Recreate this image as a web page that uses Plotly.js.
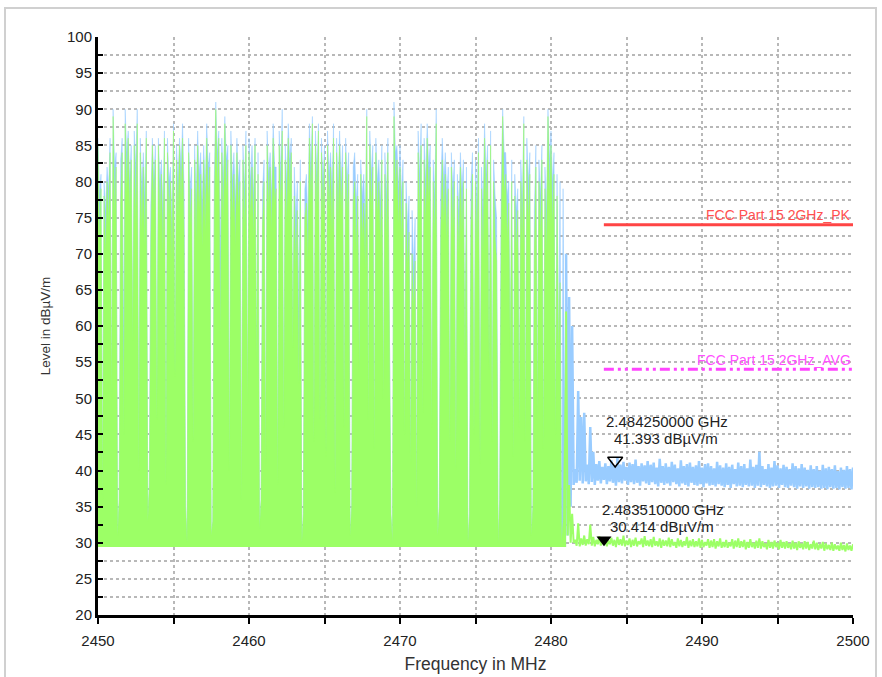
<!DOCTYPE html>
<html><head><meta charset="utf-8">
<script src="https://cdn.plot.ly/plotly-3.0.1.min.js"></script>
<style>
html,body{margin:0;padding:0;background:#fff;overflow:hidden;width:882px;height:677px;}
#chart{position:absolute;left:0;top:0;width:882px;height:677px;}
#frame{position:absolute;left:4px;top:7px;width:873px;height:720px;border:2px solid #d0d0d0;box-sizing:border-box;pointer-events:none;}
</style></head><body>
<div id="chart"></div>
<div id="frame"></div>
<script>
// Sweep grid
const START_MHZ = 2450.0;
const STEP_MHZ = 0.1;
const SPLIT_INDEX = 310;      // end of the hopping band (2481.0 MHz)
const HOP_FLOOR = 29.4;       // noise floor under the hopping band

// Peak trace (blue), dBµV/m, one value per 0.1 MHz from 2450.0 to 2500.0
const pkLevel = [
86,78,81,36,80,76,82,79,86,50,
90,82,84,31,36,83,86,58,90,84,
87,80,85,58,87,82,90,40,86,79,
84,78,87,33,38,77,86,80,85,47,
86,80,83,76,87,38,86,80,82,74,
88,53,85,80,86,82,88,79,35,30,
86,79,82,44,85,78,87,81,84,77,
85,79,88,82,84,31,33,80,91,84,
87,70,86,80,89,83,85,40,87,80,
84,77,86,80,83,36,85,79,87,49,
86,80,85,78,86,55,84,32,36,79,
83,41,87,81,84,78,88,82,82,38,
87,81,90,46,85,80,88,83,86,57,
82,75,80,62,83,30,34,79,81,74,
88,82,89,44,87,81,88,47,86,80,
85,42,87,81,84,79,88,37,86,79,
87,80,85,46,86,80,84,31,35,82,
84,77,81,54,83,78,81,74,90,47,
87,81,85,43,86,80,83,77,85,50,
84,78,86,53,34,30,91,84,85,79,
85,78,83,45,80,74,78,41,76,68,
75,35,87,81,88,48,86,80,88,82,
85,46,83,78,90,31,35,79,86,80,
84,78,82,44,84,79,83,40,81,76,
84,79,83,55,82,30,34,80,84,45,
83,77,86,41,82,76,88,81,85,54,
87,44,83,78,75,30,36,79,90,84,
84,78,80,56,83,42,81,76,79,46,
83,77,89,44,86,80,84,31,35,76,
85,47,83,78,85,43,82,76,90,83,
87,80,84,45,81,56,80,30,79,48,
70,31,64,35,60,38,
40.2,38.3,51.0,38.6,47.4,38.2,48.0,38.5,40.8,38.1,
46.0,38.4,42.6,38.0,40.9,38.6,41.3,38.2,40.5,38.7,
41.0,38.1,40.6,38.5,41.4,38.3,40.7,37.9,41.8,38.4,
40.8,38.2,41.2,38.6,40.5,38.0,41.1,38.4,40.9,38.1,
41.5,38.3,40.6,37.9,41.0,38.5,40.7,38.2,41.3,38.0,
40.8,38.4,41.1,38.1,40.4,37.8,41.6,38.3,40.6,38.0,
41.0,38.2,40.5,37.9,41.2,38.4,40.8,38.1,40.3,37.8,
41.4,38.2,40.6,38.0,40.9,37.8,41.1,38.3,40.5,38.0,
40.7,37.9,41.3,38.1,40.4,37.7,40.9,38.2,41.0,37.9,
40.6,38.0,40.3,37.8,41.2,38.1,40.7,37.9,40.4,37.7,
41.0,38.0,40.5,37.6,40.8,38.1,40.2,37.8,41.1,37.9,
40.6,37.7,40.9,38.0,40.3,37.8,41.5,37.9,40.5,37.6,
40.8,37.9,42.6,37.7,40.6,38.0,40.2,37.8,40.9,37.6,
40.4,37.8,41.3,37.9,40.7,37.6,40.3,38.0,40.8,37.7,
40.5,37.6,40.2,37.9,41.0,37.7,40.6,37.5,40.3,37.8,
40.9,37.6,40.4,37.8,40.1,37.5,40.7,37.7,40.2,37.6,
40.6,37.7,40.0,37.5,40.8,37.6,40.3,37.4,40.5,37.7,
40.2,37.5,40.7,37.6,39.9,37.4,40.4,37.7,40.1,37.5,
40.6,37.6,40.2,37.4,40.4
];

// Average trace (green), dBµV/m, same sweep grid
const avLevel = [
85,72,79,36,78,70,80,74,84,50,
89,75,82,31,36,77,84,45,88,78,
86,76,83,58,85,74,88,40,84,73,
82,71,86,33,38,72,85,76,83,47,
85,74,81,70,86,38,84,75,80,69,
87,53,83,75,85,77,86,73,35,30,
84,74,79,44,83,72,85,76,81,71,
83,73,86,77,82,31,33,75,90,79,
86,59,84,74,88,78,83,40,85,75,
81,71,84,76,80,36,83,73,85,49,
84,75,82,72,85,55,81,32,36,74,
80,41,85,76,82,73,86,77,79,38,
85,76,87,46,83,74,86,78,84,57,
78,68,76,52,80,30,34,75,77,69,
86,77,88,44,85,76,87,47,84,75,
83,42,85,76,82,73,86,37,84,74,
85,76,82,46,84,75,81,31,35,77,
80,70,78,54,81,72,77,68,89,47,
85,76,82,43,84,75,80,71,83,50,
81,72,84,53,34,30,89,78,83,74,
82,72,80,45,77,68,73,41,70,62,
69,35,84,75,85,48,83,74,86,77,
82,46,80,72,88,31,35,73,83,74,
81,72,79,44,82,73,80,40,78,70,
82,73,80,55,79,30,34,74,81,45,
80,71,84,41,79,70,86,76,83,54,
85,44,80,72,69,30,36,73,89,78,
81,72,77,56,80,42,78,70,76,46,
80,71,88,44,83,74,81,31,35,70,
82,47,80,72,83,43,79,70,89,78,
85,74,81,45,78,56,66,30,33,48,
62,31,38,30,34,30,
30.4,29.6,32.7,29.5,30.6,29.7,31.0,29.6,30.5,29.8,
32.5,29.6,30.8,29.5,30.4,29.8,30.9,29.6,30.5,29.7,
30.6,29.5,30.3,29.8,30.7,29.6,30.4,29.4,30.8,29.7,
30.5,29.6,31.0,29.5,30.3,29.7,30.6,29.4,30.4,29.6,
30.7,29.5,30.2,29.8,30.6,29.4,30.9,29.6,30.3,29.5,
30.5,29.4,30.8,29.6,30.2,29.5,30.6,29.3,30.4,29.6,
30.3,29.5,30.7,29.4,30.5,29.6,30.1,29.3,30.6,29.5,
30.4,29.4,30.2,29.6,30.8,29.3,30.3,29.5,30.5,29.4,
30.2,29.5,30.6,29.3,30.4,29.4,30.1,29.6,30.5,29.3,
30.3,29.4,30.5,29.2,30.2,29.5,30.6,29.3,30.1,29.4,
30.4,29.3,30.0,29.5,30.5,29.2,30.3,29.4,30.6,29.3,
30.2,29.4,30.4,29.1,30.1,29.3,30.5,29.4,30.0,29.2,
30.3,29.3,30.6,29.2,30.2,29.4,29.9,29.1,30.4,29.3,
30.1,29.2,30.3,29.4,30.0,29.1,30.4,29.3,30.1,29.2,
30.2,29.3,29.9,29.1,30.3,29.2,30.0,29.0,30.2,29.3,
29.9,29.1,30.2,29.2,30.1,29.0,29.8,29.2,30.3,29.1,
30.0,29.0,29.8,29.2,30.1,28.9,29.9,29.1,29.7,29.0,
30.0,28.9,29.8,29.1,29.6,28.9,30.0,29.0,29.7,28.8,
29.9,29.0,29.6,28.9,29.8
];

// Limit lines
const limitFreq = [2483.5, 2500];
const pkLimit = [74, 74];
const avgLimit = [54, 54];
const pkLimitName = 'FCC Part 15 2GHz_PK';
const avgLimitName = 'FCC Part 15 2GHz_AVG';

// Markers
const markerFreq = [2484.25, 2483.51];
const markerLevel = [41.393, 30.414];
const markerFreqText = ['2.484250000 GHz', '2.483510000 GHz'];
const markerLevelText = ['41.393 dBµV/m', '30.414 dBµV/m'];

// Axis ticks
const xTickVals = [2450, 2455, 2460, 2465, 2470, 2475, 2480, 2485, 2490, 2495, 2500];
const xTickText = ['2450', '', '2460', '', '2470', '', '2480', '', '2490', '', '2500'];
const yTickVals = [20,22.5,25,27.5,30,32.5,35,37.5,40,42.5,45,47.5,50,52.5,55,57.5,60,62.5,65,67.5,70,72.5,75,77.5,80,82.5,85,87.5,90,92.5,95,97.5,100];
const yTickText = yTickVals.map(v => (v % 5 === 0 ? String(v) : ''));

const BLUE = '#99ccff';
const GREEN = '#9cff66';

const freqs = pkLevel.map((_, i) => +(START_MHZ + i * STEP_MHZ).toFixed(2));

const traces = [
  {x: [freqs[0], freqs[SPLIT_INDEX]], y: [HOP_FLOOR, HOP_FLOOR], mode: 'lines',
   line: {width: 0, color: 'rgba(0,0,0,0)'}, hoverinfo: 'skip'},
  {x: freqs.slice(0, SPLIT_INDEX + 1), y: pkLevel.slice(0, SPLIT_INDEX + 1), mode: 'lines',
   fill: 'tonexty', fillcolor: BLUE, line: {color: BLUE, width: 0.5}, name: 'PK'},
  {x: freqs.slice(SPLIT_INDEX), y: pkLevel.slice(SPLIT_INDEX), mode: 'lines',
   line: {color: BLUE, width: 2.5}, name: 'PK'},
  {x: [freqs[0], freqs[SPLIT_INDEX]], y: [HOP_FLOOR, HOP_FLOOR], mode: 'lines',
   line: {width: 0, color: 'rgba(0,0,0,0)'}, hoverinfo: 'skip'},
  {x: freqs.slice(0, SPLIT_INDEX + 1), y: avLevel.slice(0, SPLIT_INDEX + 1), mode: 'lines',
   fill: 'tonexty', fillcolor: GREEN, line: {color: GREEN, width: 0.5}, name: 'AV'},
  {x: freqs.slice(SPLIT_INDEX), y: avLevel.slice(SPLIT_INDEX), mode: 'lines',
   line: {color: GREEN, width: 2}, name: 'AV'},
  {x: limitFreq, y: pkLimit, mode: 'lines', line: {color: '#ff4545', width: 3}, name: pkLimitName},
  {x: limitFreq, y: avgLimit, mode: 'lines',
   line: {color: '#ff44ff', width: 3, dash: '10px,4px,3px,4px,3px,4px'}, name: avgLimitName},
  {x: [markerFreq[0]], y: [markerLevel[0]], mode: 'markers',
   marker: {symbol: 'triangle-down-open', size: 13, color: '#000', line: {width: 1.5, color: '#000'}}},
  {x: [markerFreq[1]], y: [markerLevel[1]], mode: 'markers',
   marker: {symbol: 'triangle-down', size: 13, color: '#000'}}
];

const txt = {family: 'Liberation Sans, Arial, sans-serif', size: 15, color: '#222'};
const annotations = [
  {x: 2500, y: 75.4, xref: 'x', yref: 'y', text: pkLimitName, showarrow: false, xanchor: 'right', yanchor: 'middle',
   font: {family: txt.family, size: 14, color: '#ff5050'}},
  {x: 2500, y: 55.3, xref: 'x', yref: 'y', text: avgLimitName, showarrow: false, xanchor: 'right', yanchor: 'middle',
   font: {family: txt.family, size: 14, color: '#ff50ff'}},
  {x: 2487.65, y: 46.85, text: markerFreqText[0], showarrow: false, xanchor: 'center', yanchor: 'middle', font: txt},
  {x: 2487.62, y: 44.4, text: markerLevelText[0], showarrow: false, xanchor: 'center', yanchor: 'middle', font: txt},
  {x: 2487.45, y: 34.67, text: markerFreqText[1], showarrow: false, xanchor: 'center', yanchor: 'middle', font: txt},
  {x: 2487.38, y: 32.2, text: markerLevelText[1], showarrow: false, xanchor: 'center', yanchor: 'middle', font: txt}
];

const layout = {
  width: 882, height: 677,
  margin: {l: 98, r: 29, t: 37, b: 62, pad: 0},
  paper_bgcolor: 'rgba(0,0,0,0)', plot_bgcolor: '#ffffff',
  showlegend: false,
  font: {family: 'Liberation Sans, Arial, sans-serif', color: '#222'},
  xaxis: {
    range: [2450, 2500], tickmode: 'array', tickvals: xTickVals, ticktext: xTickText,
    ticks: 'outside', ticklen: 6, tickwidth: 2, tickcolor: '#000',
    showline: true, linecolor: '#000', linewidth: 3,
    showgrid: true, gridcolor: '#b8b8b8', griddash: 'dot', gridwidth: 2, zeroline: false,
    tickfont: {size: 15, color: '#222'}, ticklabelstandoff: 4,
    title: {text: 'Frequency in MHz', font: {size: 17.5, color: '#333'}, standoff: 10}
  },
  yaxis: {
    range: [20, 100], tickmode: 'array', tickvals: yTickVals, ticktext: yTickText,
    ticks: 'inside', ticklen: 5, tickwidth: 2, tickcolor: '#000',
    showline: true, linecolor: '#000', linewidth: 3,
    showgrid: true, gridcolor: '#b8b8b8', griddash: 'dot', gridwidth: 2, zeroline: false,
    tickfont: {size: 15, color: '#222'},
    title: {text: 'Level in dBµV/m', font: {size: 13.5, color: '#333'}, standoff: 14}
  },
  annotations: annotations
};

Plotly.newPlot('chart', traces, layout, {staticPlot: true, displayModeBar: false});
</script>
</body></html>
